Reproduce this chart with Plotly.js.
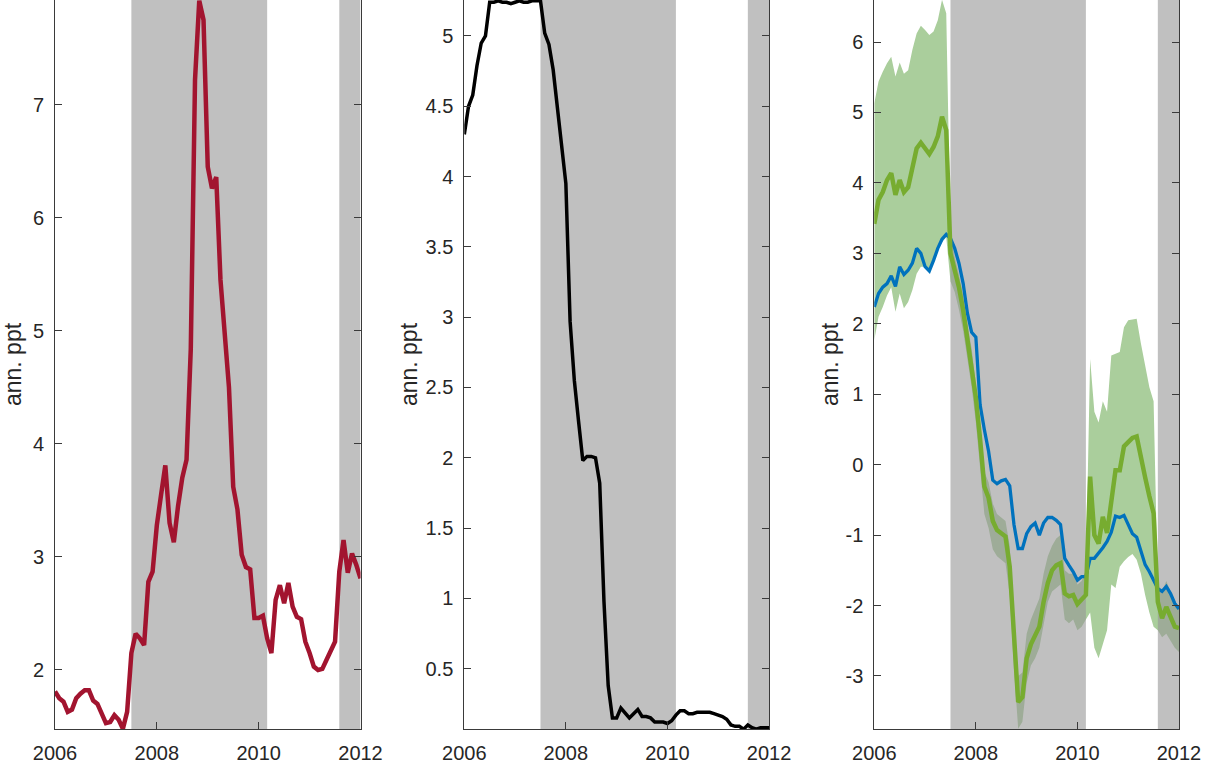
<!DOCTYPE html>
<html>
<head>
<meta charset="utf-8">
<script src="https://cdn.plot.ly/plotly-3.0.1.min.js"></script>
<style>
html, body { margin: 0; padding: 0; background: #ffffff; }
#chart { width: 1222px; height: 767px; }
</style>
</head>
<body>
<div id="chart"></div>
<script>
// ---------- data (monthly, Jan 2006 .. Jan 2012) ----------
const startYear = 2006;

const spreadSeries = [
  1.81, 1.75, 1.72, 1.63, 1.65, 1.75, 1.79, 1.82, 1.82, 1.73,
  1.70, 1.62, 1.53, 1.54, 1.60, 1.56, 1.48, 1.63, 2.15, 2.32,
  2.28, 2.22, 2.78, 2.87, 3.28, 3.55, 3.81, 3.30, 3.13, 3.45,
  3.70, 3.86, 4.84, 7.22, 7.92, 7.75, 6.45, 6.26, 6.36, 5.45,
  4.92, 4.50, 3.62, 3.42, 3.02, 2.91, 2.89, 2.46, 2.46, 2.48,
  2.28, 2.15, 2.62, 2.75, 2.59, 2.77, 2.56, 2.47, 2.45, 2.25,
  2.15, 2.03, 2.00, 2.01, 2.09, 2.18, 2.25, 2.87, 3.15, 2.86,
  3.03, 2.93, 2.81
];

const policyRate = [
  4.30, 4.50, 4.58, 4.79, 4.95, 5.00, 5.24, 5.24, 5.25, 5.24,
  5.24, 5.23, 5.24, 5.25, 5.24, 5.24, 5.25, 5.25, 5.25, 5.02,
  4.94, 4.76, 4.50, 4.24, 3.95, 2.97, 2.55, 2.26, 1.98, 2.01,
  2.01, 2.00, 1.82, 0.98, 0.38, 0.15, 0.15, 0.22, 0.18, 0.15,
  0.18, 0.21, 0.16, 0.16, 0.15, 0.12, 0.12, 0.12, 0.11, 0.13,
  0.17, 0.20, 0.20, 0.18, 0.18, 0.19, 0.19, 0.19, 0.19, 0.18,
  0.17, 0.16, 0.14, 0.10, 0.09, 0.09, 0.07, 0.10, 0.08, 0.07,
  0.08, 0.08, 0.08
];

const blueSeries = [
  2.24, 2.43, 2.52, 2.57, 2.68, 2.53, 2.81, 2.70, 2.76, 2.86,
  3.07, 3.00, 2.81, 2.75, 2.90, 3.07, 3.20, 3.27, 3.21, 3.07,
  2.86, 2.57, 2.15, 1.88, 1.81, 0.85, 0.50, 0.19, -0.22, -0.27,
  -0.23, -0.21, -0.30, -0.85, -1.19, -1.19, -0.98, -0.88, -0.83, -1.00,
  -0.83, -0.75, -0.75, -0.79, -0.85, -1.33, -1.43, -1.52, -1.64, -1.59,
  -1.59, -1.33, -1.33, -1.26, -1.18, -1.09, -0.96, -0.73, -0.75, -0.72,
  -0.86, -0.98, -1.03, -1.22, -1.42, -1.52, -1.65, -1.76, -1.80, -1.73,
  -1.83, -1.97, -2.05
];

const greenSeries = [
  3.42, 3.76, 3.87, 4.04, 4.14, 3.83, 4.04, 3.87, 3.94, 4.23,
  4.49, 4.57, 4.48, 4.41, 4.51, 4.66, 4.94, 4.75, 3.00, 2.76,
  2.52, 2.19, 1.77, 1.45, 0.95, 0.36, -0.31, -0.47, -0.80, -0.93,
  -0.98, -1.02, -1.45, -2.50, -3.37, -3.30, -2.75, -2.55, -2.42, -2.30,
  -1.95, -1.68, -1.50, -1.43, -1.40, -1.83, -1.87, -1.85, -1.98, -1.92,
  -1.85, -0.17, -1.00, -1.12, -0.74, -0.97, -0.55, -0.08, -0.08, 0.26,
  0.32, 0.38, 0.40, 0.08, -0.18, -0.45, -0.69, -1.95, -2.18, -2.02,
  -2.15, -2.30, -2.32
];

const greenUpper = [
  5.13, 5.44, 5.58, 5.70, 5.79, 5.51, 5.71, 5.55, 5.60, 5.89,
  6.12, 6.23, 6.17, 6.10, 6.15, 6.31, 6.60, 6.41, 3.30, 2.95,
  2.70, 2.40, 2.00, 1.65, 1.15, 0.55, -0.10, -0.25, -0.55, -0.70,
  -0.75, -0.80, -1.15, -2.20, -3.00, -2.95, -2.40, -2.20, -2.05, -1.90,
  -1.55, -1.30, -1.15, -1.05, -1.00, -1.50, -1.55, -1.55, -1.70, -1.65,
  -1.50, 1.50, 0.75, 0.60, 0.90, 0.75, 1.55, 1.58, 1.60, 1.95,
  2.05, 2.06, 2.07, 1.72, 1.40, 1.10, 0.90, -1.75, -1.80, -1.65,
  -1.80, -2.00, -2.05
];

const greenLower = [
  1.77, 2.10, 2.24, 2.40, 2.52, 2.17, 2.43, 2.22, 2.31, 2.48,
  2.71, 2.81, 2.81, 2.76, 2.90, 3.07, 3.16, 3.23, 2.60, 2.45,
  2.20, 1.90, 1.50, 1.10, 0.60, 0.00, -0.70, -0.90, -1.20, -1.30,
  -1.35, -1.40, -1.85, -2.90, -3.75, -3.65, -3.10, -2.85, -2.75, -2.60,
  -2.25, -1.95, -1.80, -1.75, -1.70, -2.20, -2.25, -2.20, -2.35, -2.30,
  -2.20, -2.10, -2.60, -2.75, -2.55, -2.35, -1.70, -1.75, -1.45, -1.37,
  -1.31, -1.27, -1.35, -1.55, -1.85, -2.10, -2.30, -2.35, -2.45, -2.40,
  -2.50, -2.60, -2.66
];

// shaded periods (decimal years)
const recStart = [2007.5, 2011.5833];
const recEnd   = [2010.1667, 2012.0];

// axis ticks
const xTickVals = [2006, 2008, 2010, 2012];
const xTickText = ['2006', '2008', '2010', '2012'];
const y3TickVals = [-3, -2, -1, 0, 1, 2, 3, 4, 5, 6];
const y3TickText = ['-3', '-2', '-1', '0', '1', '2', '3', '4', '5', '6'];
const yLabel = 'ann. ppt';

// ---------- layout constants ----------
const dates = spreadSeries.map((_, i) => startYear + i / 12);
const xRange = [2006, 2012];
const yRanges = [[1.478, 7.926], [0.071, 5.256], [-3.753, 6.597]];
const domains = [[0.04501, 0.29501], [0.37995, 0.62930], [0.71547, 0.96481]];
const titleStandoffs = [4, 1, 0];
const axisColor = '#3a3a3a';
const textColor = '#262626';
const greyFill = 'rgba(150,150,150,0.6)';
const fontFamily = 'Liberation Sans, Arial, Helvetica, sans-serif';

function greyTraces(k) {
  const xa = k === 0 ? 'x' : 'x' + (k + 1);
  const ya = k === 0 ? 'y' : 'y' + (k + 1);
  const lo = yRanges[k][0] - 5, hi = yRanges[k][1] + 5;
  return recStart.map((s, j) => ({
    type: 'scatter', mode: 'lines', xaxis: xa, yaxis: ya,
    x: [s, recEnd[j], recEnd[j], s, s],
    y: [lo, lo, hi, hi, lo],
    fill: 'toself', fillcolor: greyFill,
    line: { width: 0, color: 'rgba(0,0,0,0)' },
    hoverinfo: 'skip', showlegend: false
  }));
}

const traces = [];
// panel 1
traces.push(...greyTraces(0));
traces.push({
  type: 'scatter', mode: 'lines', x: dates, y: spreadSeries,
  xaxis: 'x', yaxis: 'y',
  line: { color: '#A2142F', width: 4.5 }, showlegend: false
});
// panel 2
traces.push(...greyTraces(1));
traces.push({
  type: 'scatter', mode: 'lines', x: dates, y: policyRate,
  xaxis: 'x2', yaxis: 'y2',
  line: { color: '#000000', width: 3.5 }, showlegend: false
});
// panel 3: band, then grey, then lines
traces.push({
  type: 'scatter', mode: 'lines',
  x: dates.concat(dates.slice().reverse()),
  y: greenUpper.concat(greenLower.slice().reverse()),
  xaxis: 'x3', yaxis: 'y3',
  fill: 'toself', fillcolor: '#AACE9C',
  line: { width: 0, color: 'rgba(0,0,0,0)' },
  hoverinfo: 'skip', showlegend: false
});
traces.push(...greyTraces(2));
traces.push({
  type: 'scatter', mode: 'lines', x: dates, y: blueSeries,
  xaxis: 'x3', yaxis: 'y3',
  line: { color: '#0072BD', width: 3.3 }, showlegend: false
});
traces.push({
  type: 'scatter', mode: 'lines', x: dates, y: greenSeries,
  xaxis: 'x3', yaxis: 'y3',
  line: { color: '#77AC30', width: 4.5 }, showlegend: false
});

const tickFont = { family: fontFamily, size: 20, color: textColor };

function xAxis(k) {
  return {
    domain: domains[k], range: xRange, anchor: k === 0 ? 'y' : 'y' + (k + 1),
    tickmode: 'array', tickvals: xTickVals, ticktext: xTickText,
    ticks: 'inside', ticklen: 7, tickwidth: 1, tickcolor: axisColor,
    showline: true, linecolor: axisColor, linewidth: 1, mirror: false,
    showgrid: false, zeroline: false, tickfont: tickFont,
    ticklabelstandoff: 6, fixedrange: true
  };
}
function xTopAxis(k) {
  return {
    overlaying: k === 0 ? 'x' : 'x' + (k + 1), side: 'top',
    anchor: k === 0 ? 'y' : 'y' + (k + 1),
    range: xRange, tickmode: 'array', tickvals: xTickVals,
    showticklabels: false, ticks: 'inside', ticklen: 7, tickwidth: 1,
    tickcolor: axisColor, showline: false, showgrid: false, zeroline: false,
    fixedrange: true
  };
}
function yAxis(k, extra) {
  return Object.assign({
    domain: [0, 1], range: yRanges[k], anchor: k === 0 ? 'x' : 'x' + (k + 1),
    ticks: 'inside', ticklen: 7, tickwidth: 1, tickcolor: axisColor,
    showline: true, linecolor: axisColor, linewidth: 1, mirror: 'ticks',
    showgrid: false, zeroline: false, tickfont: tickFont,
    ticklabelstandoff: 6, fixedrange: true,
    title: { text: yLabel, standoff: titleStandoffs[k],
             font: { family: fontFamily, size: 23, color: textColor } }
  }, extra || {});
}

const layout = {
  width: 1222, height: 767,
  margin: { l: 0, r: 0, t: 0, b: 38, pad: 0 },
  paper_bgcolor: '#ffffff', plot_bgcolor: '#ffffff',
  showlegend: false,
  xaxis: xAxis(0), xaxis2: xAxis(1), xaxis3: xAxis(2),
  xaxis4: xTopAxis(0), xaxis5: xTopAxis(1), xaxis6: xTopAxis(2),
  yaxis: yAxis(0, { dtick: 1, tick0: 0 }),
  yaxis2: yAxis(1, { dtick: 0.5, tick0: 0 }),
  yaxis3: yAxis(2, { tickmode: 'array', tickvals: y3TickVals, ticktext: y3TickText })
};

Plotly.newPlot('chart', traces, layout, { staticPlot: true, displayModeBar: false });
</script>
</body>
</html>
